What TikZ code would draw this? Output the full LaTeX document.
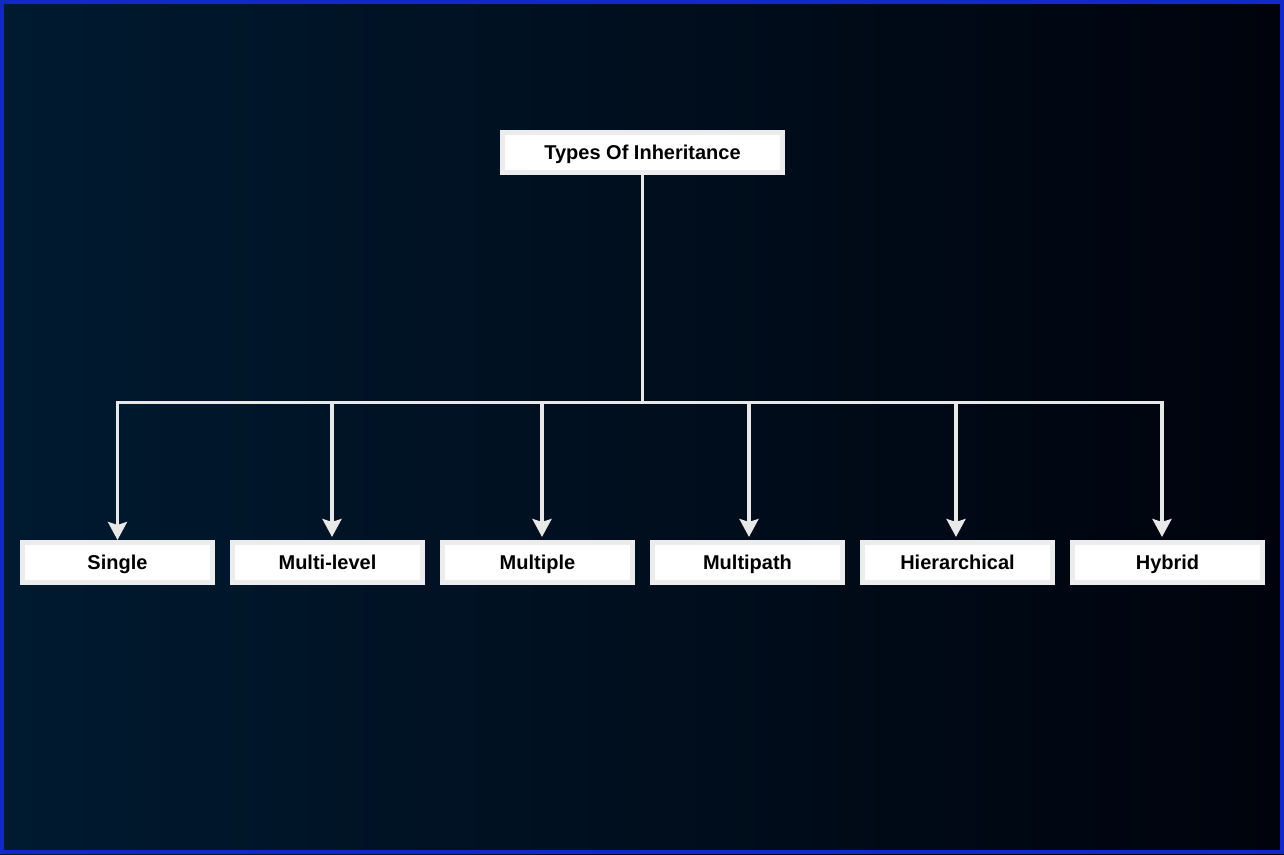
\documentclass[tikz,border=0pt]{standalone}
\usepackage{fontspec}
\setmainfont{Liberation Sans}
\usetikzlibrary{positioning}
\usetikzlibrary{arrows.meta}

\definecolor{bgleft}{RGB}{0,26,48}
\definecolor{bgright}{RGB}{0,3,12}
\definecolor{frameblue}{RGB}{18,40,200}
\definecolor{boxedge}{RGB}{236,236,236}
\definecolor{linkgray}{RGB}{232,232,232}

\begin{document}
\begin{tikzpicture}[
    node distance=15pt and 15pt,
    every node/.style={font=\bfseries\fontsize{20}{24}\selectfont, text=black},
    rootbox/.style={rectangle, draw=boxedge, fill=white, line width=5pt, align=center, minimum width=280pt, minimum height=40pt, text height=18pt, text depth=3pt},
    kindbox/.style={rectangle, draw=boxedge, fill=white, line width=5pt, align=center, minimum width=190pt, minimum height=40pt, text height=18pt, text depth=3pt},
    link/.style={draw=linkgray, line width=3.5pt},
    arrow/.style={link, -{Stealth[length=18pt, width=19pt, inset=3pt]}}
]

% Background and frame
\fill[left color=bgleft, right color=bgright] (0,0) rectangle (1284pt,854pt);
\draw[frameblue, line width=4pt] (2pt,2pt) rectangle (1282pt,852pt);
\useasboundingbox (0,0) rectangle (1284pt,854pt);

% Root node
\node[rootbox] (root) at (642.5pt,701.5pt) {Types Of Inheritance};

% Kinds of inheritance
\node[kindbox] (single) at (117.5pt,291.5pt) {Single};
\node[kindbox, right=of single] (multilevel) {Multi-level};
\node[kindbox, right=of multilevel] (multiple) {Multiple};
\node[kindbox, right=of multiple] (multipath) {Multipath};
\node[kindbox, right=of multipath] (hierarchical) {Hierarchical};
\node[kindbox, right=of hierarchical] (hybrid) {Hybrid};

% Trunk down to the bus
\coordinate[below=227.5pt of root.south] (bus);
\draw[link] (root.south) -- (bus);

% Branches to each kind
\draw[arrow] (bus) -| (single.north);
\draw[arrow] (bus) -| ([xshift=4.5pt, yshift=3pt]multilevel.north);
\draw[arrow] (bus) -| ([xshift=4.5pt, yshift=3pt]multiple.north);
\draw[arrow] (bus) -| ([xshift=1.5pt, yshift=3pt]multipath.north);
\draw[arrow] (bus) -| ([xshift=-1.5pt, yshift=3pt]hierarchical.north);
\draw[arrow] (bus) -| ([xshift=-5.5pt, yshift=3pt]hybrid.north);

\end{tikzpicture}
\end{document}
